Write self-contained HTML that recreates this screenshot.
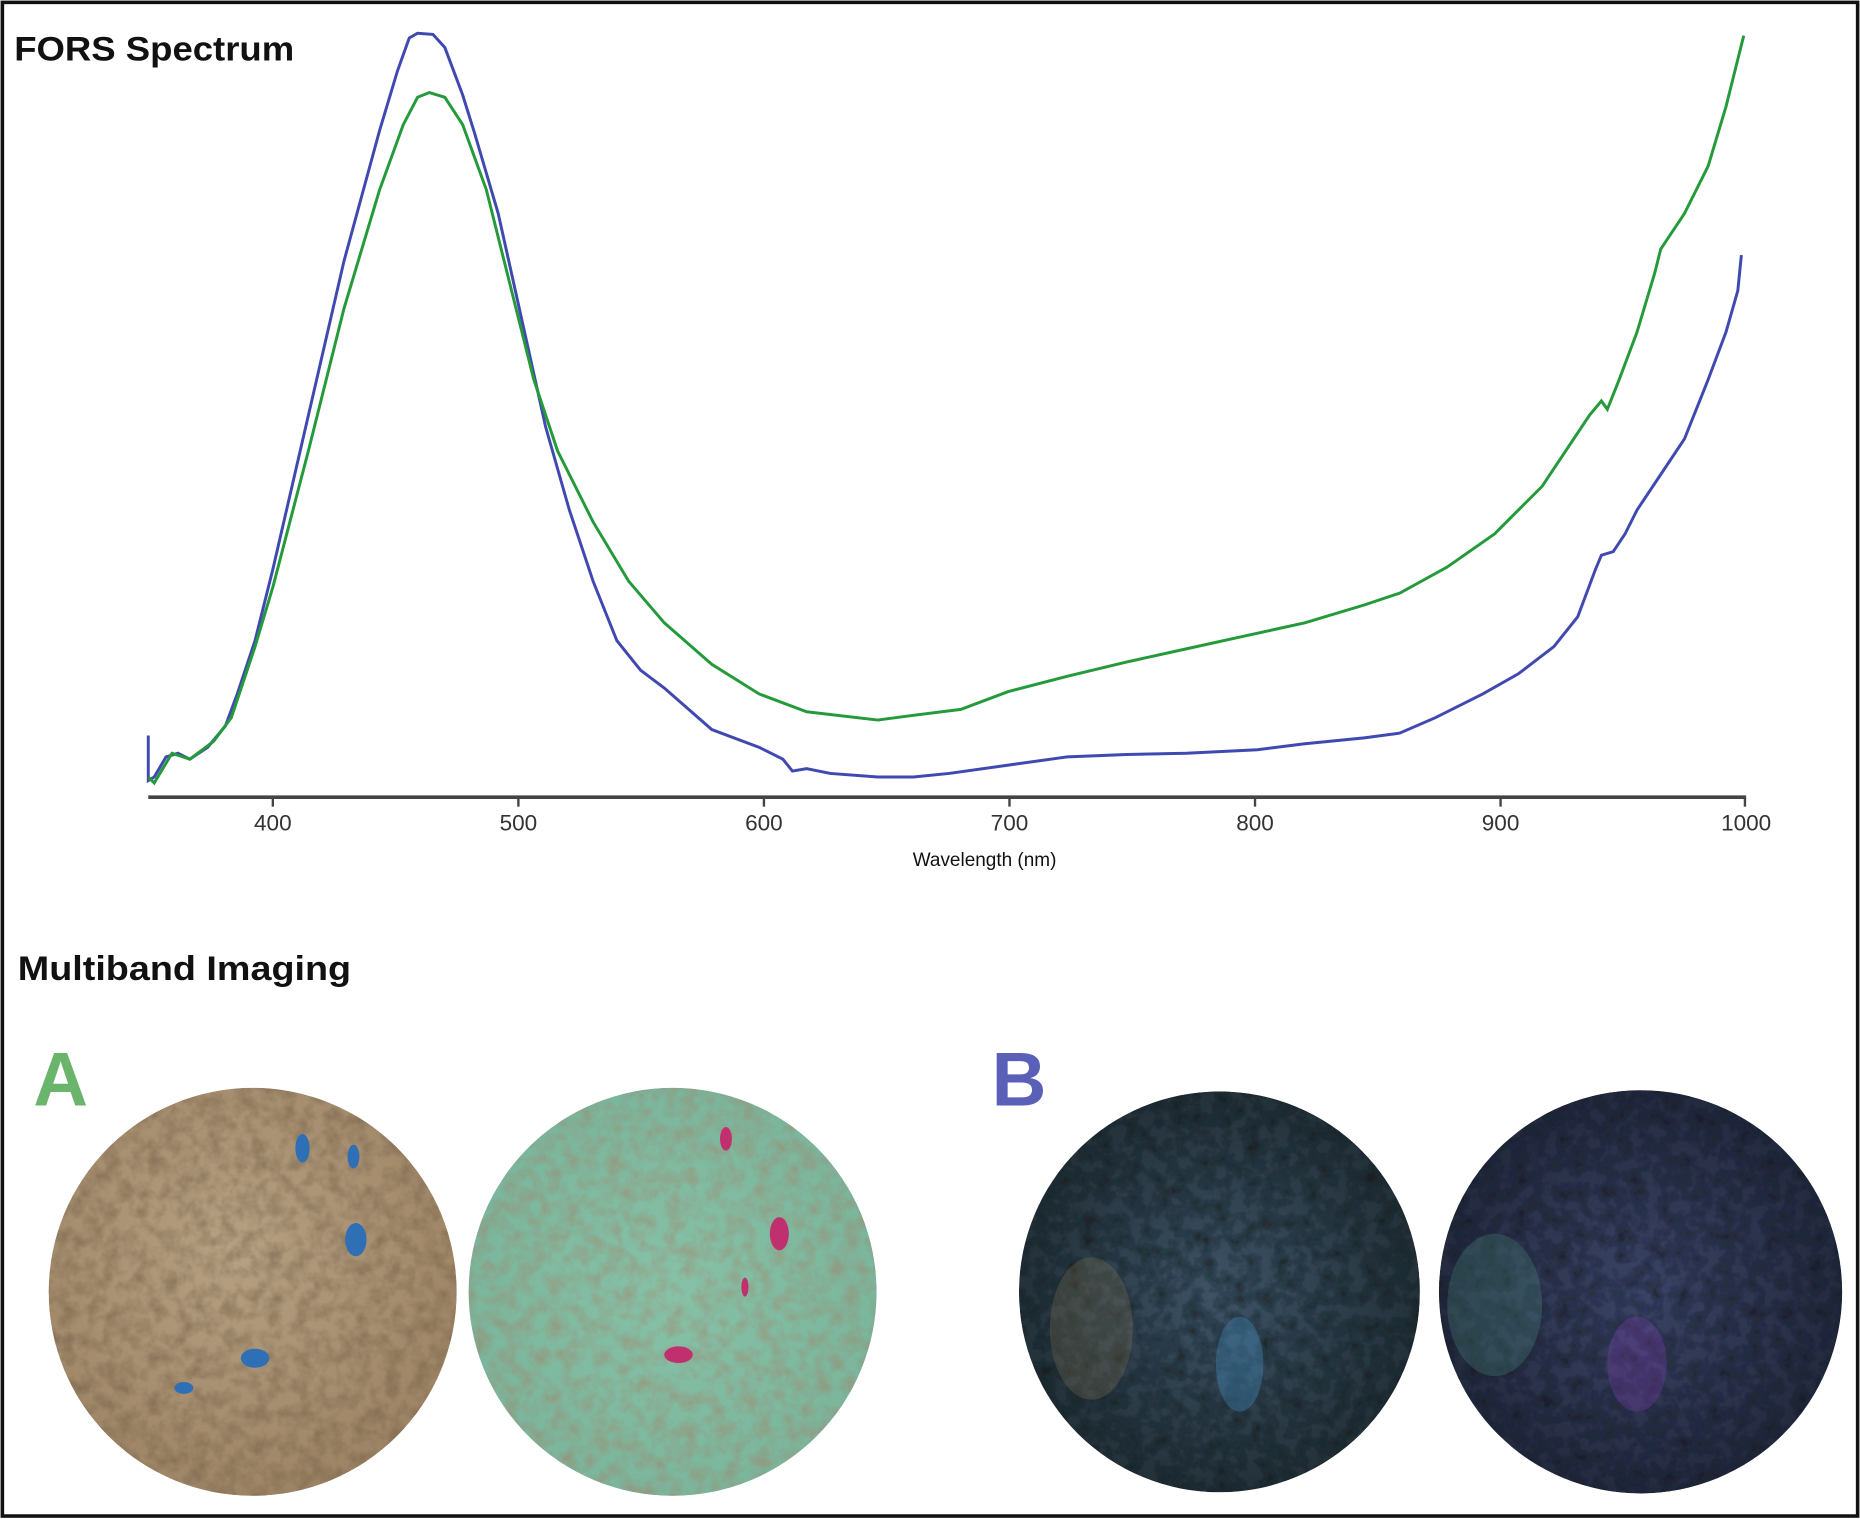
<!DOCTYPE html>
<html><head><meta charset="utf-8"><style>
html,body{margin:0;padding:0;background:#fff}
svg{display:block}
</style></head><body>
<svg width="1860" height="1519" viewBox="0 0 1568 1280.5" preserveAspectRatio="none" xmlns="http://www.w3.org/2000/svg">
<defs>
<filter id="nz" x="0" y="0" width="100%" height="100%">
<feTurbulence type="fractalNoise" baseFrequency="0.08" numOctaves="3" seed="3" result="t"/>
<feColorMatrix in="t" type="matrix" values="0 0 0 0 0  0 0 0 0 0  0 0 0 0 0  0 0 0 -1.4 0.9" result="a"/>
<feComposite in="SourceGraphic" in2="a" operator="in"/>
</filter>
<radialGradient id="gA1" cx="45%" cy="40%" r="60%"><stop offset="0" stop-color="#b7a183"/><stop offset="1" stop-color="#9d8465"/></radialGradient>
<radialGradient id="gA2" cx="50%" cy="50%" r="60%"><stop offset="0" stop-color="#86c2a8"/><stop offset="1" stop-color="#79b39a"/></radialGradient>
<radialGradient id="gB1" cx="50%" cy="50%" r="60%"><stop offset="0" stop-color="#3d5366"/><stop offset="1" stop-color="#1e2a30"/></radialGradient>
<radialGradient id="gB2" cx="50%" cy="50%" r="60%"><stop offset="0" stop-color="#3b4466"/><stop offset="1" stop-color="#1f2536"/></radialGradient>
<clipPath id="c1"><circle cx="213" cy="1089" r="172"/></clipPath>
<clipPath id="c2"><circle cx="567" cy="1089" r="172"/></clipPath>
<clipPath id="c3"><circle cx="1028" cy="1089" r="169"/></clipPath>
<clipPath id="c4"><circle cx="1383" cy="1089" r="170"/></clipPath>
</defs>
<rect x="2" y="2" width="1564" height="1276" fill="#fff" stroke="#111" stroke-width="3"/>
<text x="12" y="51" font-family="Liberation Sans, sans-serif" font-weight="bold" font-size="29" fill="#111" textLength="236" lengthAdjust="spacingAndGlyphs">FORS Spectrum</text>
<text x="15" y="826" font-family="Liberation Sans, sans-serif" font-weight="bold" font-size="29" fill="#111" textLength="281" lengthAdjust="spacingAndGlyphs">Multiband Imaging</text>

<line x1="125" y1="672" x2="1472" y2="672" stroke="#444" stroke-width="3"/>
<g stroke="#444" stroke-width="2">
<line x1="230" y1="672" x2="230" y2="680"/><line x1="437" y1="672" x2="437" y2="680"/><line x1="644" y1="672" x2="644" y2="680"/><line x1="851" y1="672" x2="851" y2="680"/><line x1="1058" y1="672" x2="1058" y2="680"/><line x1="1265" y1="672" x2="1265" y2="680"/><line x1="1471" y1="672" x2="1471" y2="680"/>
</g>
<g font-family="Liberation Sans, sans-serif" font-size="19" fill="#333" text-anchor="middle">
<text x="230" y="700">400</text><text x="437" y="700">500</text><text x="644" y="700">600</text><text x="851" y="700">700</text><text x="1058" y="700">800</text><text x="1265" y="700">900</text><text x="1472" y="700">1000</text>
<text x="830" y="730" font-size="16" fill="#111">Wavelength (nm)</text>
</g>

<polyline fill="none" stroke="#3f49b0" stroke-width="2.5" points="125,620 125,658 130,655 140,638 150,635 160,640 175,630 190,612 200,585 215,540 230,480 260,350 290,220 320,110 335,60 345,32 352,28 365,29 375,40 390,80 400,112 420,180 440,270 460,360 480,430 500,490 520,540 540,565 560,580 600,615 640,630 660,640 668,650 680,648 700,652 740,655 770,655 800,652 850,645 900,638 950,636 1000,635 1060,632 1100,627 1150,622 1180,618 1210,605 1250,585 1280,568 1310,545 1330,520 1345,480 1350,468 1360,465 1370,450 1380,430 1400,400 1420,370 1440,320 1455,280 1465,245 1468,215"/>
<polyline fill="none" stroke="#249a3a" stroke-width="2.5" points="125,655 130,660 145,635 160,640 180,625 195,605 215,545 230,495 260,380 290,260 320,160 340,105 352,82 362,78 375,82 390,105 410,160 430,240 450,320 470,380 500,440 530,490 560,525 600,560 640,585 680,600 740,607 770,603 810,598 850,583 900,570 950,558 1000,547 1050,536 1100,525 1150,510 1180,500 1220,478 1260,450 1300,410 1340,350 1350,338 1355,345 1365,320 1380,280 1395,230 1400,210 1420,180 1440,140 1455,90 1465,50 1470,30"/>

<text x="28" y="932" font-family="Liberation Sans, sans-serif" font-weight="bold" font-size="64" fill="#6ab46c">A</text>
<text x="836" y="932" font-family="Liberation Sans, sans-serif" font-weight="bold" font-size="64" fill="#5a60b8">B</text>

<g clip-path="url(#c1)">
<circle cx="213" cy="1089" r="172" fill="url(#gA1)"/>
<rect x="40" y="915" width="350" height="350" fill="#6e5a44" filter="url(#nz)" opacity="0.7"/>
<g fill="#2f6fb5"><ellipse cx="255" cy="968" rx="6" ry="12"/><ellipse cx="298" cy="975" rx="5" ry="10"/><ellipse cx="300" cy="1045" rx="9" ry="14"/><ellipse cx="215" cy="1145" rx="12" ry="8"/><ellipse cx="155" cy="1170" rx="8" ry="5"/></g>
</g>
<g clip-path="url(#c2)">
<circle cx="567" cy="1089" r="172" fill="url(#gA2)"/>
<rect x="394" y="915" width="350" height="350" fill="#a97a60" filter="url(#nz)" opacity="0.6"/>
<g fill="#c0306e"><ellipse cx="612" cy="960" rx="5" ry="10"/><ellipse cx="657" cy="1040" rx="8" ry="14"/><ellipse cx="572" cy="1142" rx="12" ry="7"/><ellipse cx="628" cy="1085" rx="3" ry="8"/></g>
</g>
<g clip-path="url(#c3)">
<circle cx="1028" cy="1089" r="169" fill="url(#gB1)"/>
<rect x="858" y="920" width="340" height="340" fill="#0e1416" filter="url(#nz)" opacity="0.8"/>
<ellipse cx="920" cy="1120" rx="35" ry="60" fill="#a08a5a" opacity="0.22"/>
<ellipse cx="1045" cy="1150" rx="20" ry="40" fill="#4aa0d8" opacity="0.3"/>
</g>
<g clip-path="url(#c4)">
<circle cx="1383" cy="1089" r="170" fill="url(#gB2)"/>
<rect x="1212" y="918" width="342" height="342" fill="#10141e" filter="url(#nz)" opacity="0.8"/>
<ellipse cx="1260" cy="1100" rx="40" ry="60" fill="#5fb89a" opacity="0.2"/>
<ellipse cx="1380" cy="1150" rx="25" ry="40" fill="#8a3fc0" opacity="0.28"/>
</g>
</svg>
</body></html>
